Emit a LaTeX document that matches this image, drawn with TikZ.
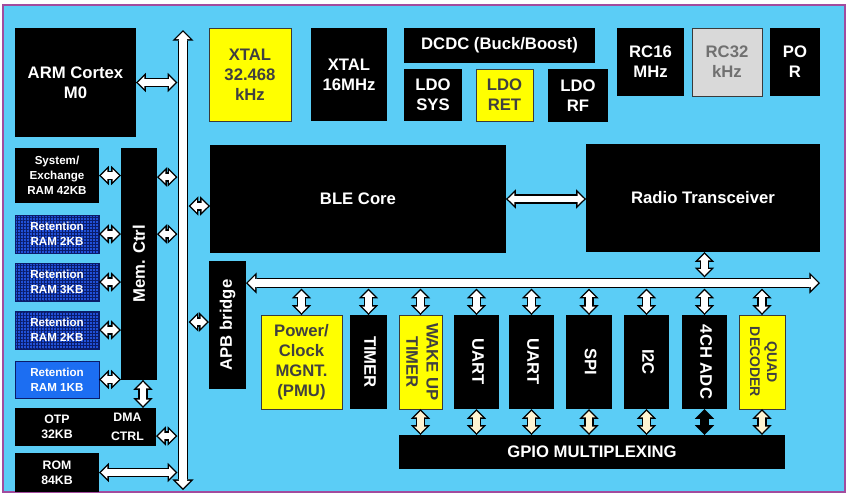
\documentclass[tikz,border=0pt]{standalone}
\usepackage{fontspec}
\setmainfont{Liberation Sans}
\usepackage{graphicx}
\usetikzlibrary{calc,arrows.meta,patterns.meta}
\definecolor{bg}{HTML}{5BCDF6}
\definecolor{frame}{HTML}{A24C9E}
\definecolor{chip}{HTML}{FFFF00}
\definecolor{chiptext}{HTML}{404040}
\definecolor{edge}{HTML}{3A3A3A}
\definecolor{rcgray}{HTML}{D9D9D9}
\definecolor{rctext}{HTML}{707070}
\definecolor{ramblue}{HTML}{2050D8}
\definecolor{ramgrid}{HTML}{0A1C6A}
\definecolor{ramlight}{HTML}{1C6EF2}
\definecolor{cream}{HTML}{FFF4D2}
\newcommand{\lbl}{\bfseries\fontsize{9.5}{11.5}\selectfont}
\newcommand{\sml}{\bfseries\fontsize{6.6}{8.4}\selectfont}
\newcommand{\vup}[1]{\rotatebox{90}{#1}}
\newcommand{\vdn}[1]{\rotatebox{-90}{\begin{tabular}{@{}c@{}}#1\end{tabular}}}
\tikzset{
  BusTip/.tip={Triangle[length=6pt,width=12pt,line width=0pt]},
  BusIn/.tip={Triangle[length=4.07pt,width=8.14pt,line width=0pt]},
  LinkTip/.tip={Triangle[length=5.6pt,width=11pt,line width=0pt]},
  LinkIn/.tip={Triangle[length=3.66pt,width=7.2pt,line width=0pt]},
  bus/.style={draw=white, line width=4.4pt, BusIn-BusIn, shorten >=1.13pt, shorten <=1.13pt,
    preaction={draw=black, line width=6pt, BusTip-BusTip, shorten >=0pt, shorten <=0pt}},
  link/.style={draw=white, line width=3.8pt, LinkIn-LinkIn, shorten >=1.14pt, shorten <=1.14pt,
    preaction={draw=black, line width=5.4pt, LinkTip-LinkTip, shorten >=0pt, shorten <=0pt}},
  iolink/.style={link, draw=cream},
  adclink/.style={link, draw=black},
  blk/.style={fill=black, text=white, font=\lbl, inner sep=0pt, outer sep=0pt, align=center},
  ylw/.style={blk, fill=chip, draw=edge, line width=0.5pt, text=chiptext},
  ram/.style={blk, font=\sml, minimum width=1.68cm},
  ret/.style={ram, draw=ramgrid, line width=0.4pt, preaction={fill=ramblue},
    pattern={Hatch[angle=0,distance=1.7pt,line width=0.5pt]}, pattern color=ramgrid},
  per/.style={blk, minimum height=1.88cm},
}

\begin{document}
\begin{tikzpicture}[x=0.02cm, y=-0.02cm]
  \useasboundingbox (0,0) rectangle (850,498);
  \fill[white] (0,0) rectangle (850,498);
  \filldraw[fill=bg, draw=frame, line width=0.9pt] (3,5) rectangle (845,492);
  % cpu and memories
  \node[blk, minimum width=2.42cm, minimum height=2.18cm] (arm) at (75.5,82.5) {ARM Cortex\\M0};
  \node[ram, minimum height=1.10cm] (sysram) at (57,175.5) {System/\\Exchange\\RAM 42KB};
  \node[ret, minimum height=0.76cm] (ret2a) at (57,234) {Retention\\RAM 2KB};
  \node[ret, minimum height=0.76cm] (ret3) at (57,282) {Retention\\RAM 3KB};
  \node[ret, minimum height=0.76cm] (ret2b) at (57,330) {Retention\\RAM 2KB};
  \node[ram, fill=ramlight, draw=ramgrid, line width=0.4pt, minimum height=0.74cm] (ret1) at (57,379.5) {Retention\\RAM 1KB};
  \node[blk, minimum width=0.72cm, minimum height=4.64cm] (memctrl) at (139,264) {\vup{Mem. Ctrl}};
  \node[ram, font=\bfseries\fontsize{7}{8.8}\selectfont, minimum height=0.76cm] (otp) at (57,427) {OTP\\32KB};
  \node[blk, font=\bfseries\fontsize{7}{10.5}\selectfont, minimum width=1.14cm, minimum height=0.76cm] (dma) at (127.5,427) {DMA\\CTRL};
  \node[ram, font=\bfseries\fontsize{7}{8.8}\selectfont, minimum height=0.78cm] (rom) at (57,472.5) {ROM\\84KB};
  % clocks and power
  \node[ylw, minimum width=1.64cm, minimum height=1.86cm] (xtal32) at (250,74.5) {XTAL\\32.468\\kHz};
  \node[blk, minimum width=1.52cm, minimum height=1.86cm] (xtal16) at (349,74.5) {XTAL\\16MHz};
  \node[blk, minimum width=3.82cm, minimum height=0.70cm] (dcdc) at (499.5,45.5) {DCDC (Buck/Boost)};
  \node[blk, minimum width=1.16cm, minimum height=1.04cm] (ldosys) at (433,95) {LDO\\SYS};
  \node[ylw, minimum width=1.14cm, minimum height=1.04cm] (ldoret) at (504.5,95) {LDO\\RET};
  \node[blk, minimum width=1.20cm, minimum height=1.06cm] (ldorf) at (578,95.5) {LDO\\RF};
  \node[blk, minimum width=1.34cm, minimum height=1.36cm] (rc16) at (650.5,62) {RC16\\MHz};
  \node[blk, fill=rcgray, draw=edge, line width=0.5pt, text=rctext, minimum width=1.40cm, minimum height=1.36cm] (rc32) at (727,62) {RC32\\kHz};
  \node[blk, minimum width=1.00cm, minimum height=1.36cm] (por) at (795,62) {PO\\R};
  % radio
  \node[blk, minimum width=5.92cm, minimum height=2.16cm] (ble) at (358,199) {BLE Core};
  \node[blk, minimum width=4.68cm, minimum height=2.16cm] (radio) at (703,198) {Radio Transceiver};
  % peripherals
  \node[blk, minimum width=0.74cm, minimum height=2.56cm] (apb) at (227.5,325) {\vup{APB bridge}};
  \node[per, ylw, minimum width=1.62cm] (pmu) at (301.5,362) {Power/\\Clock\\MGNT.\\(PMU)};
  \node[per, minimum width=0.74cm] (tmr) at (368.5,362) {\vdn{TIMER}};
  \node[per, ylw, minimum width=0.86cm] (wut) at (420.5,362) {\vdn{WAKE UP\\TIMER}};
  \node[per, minimum width=0.90cm] (uart1) at (476.5,362) {\vdn{UART}};
  \node[per, minimum width=0.90cm] (uart2) at (531.5,362) {\vdn{UART}};
  \node[per, minimum width=0.92cm] (spi) at (589,362) {\vdn{SPI}};
  \node[per, minimum width=0.90cm] (i2c) at (646.5,362) {\vdn{I2C}};
  \node[per, minimum width=0.90cm] (adc) at (704.5,362) {\vdn{4CH ADC}};
  \node[per, ylw, minimum width=0.92cm, font=\bfseries\fontsize{8}{9.6}\selectfont] (quad) at (762,362) {\vdn{QUAD\\DECODER}};
  \node[blk, minimum width=7.72cm, minimum height=0.68cm] (gpio) at (592,452) {GPIO MULTIPLEXING};
  % buses
  \coordinate (bustop) at (183,30);
  \coordinate (busbot) at (183,490);
  \coordinate (pbus) at (820,283);
  \draw[bus] (bustop) -- (busbot);
  \draw[bus] (apb.east |- pbus) -- (pbus);
  % links
  \draw[link] (arm.east) -- ($(arm.east -| bustop)+(-5.5,0)$);
  \foreach \m in {sysram,ret2a,ret3,ret2b,ret1}
    \draw[link] (\m.east) -- (\m.east -| memctrl.west);
  \foreach \dy in {29,86}
    \draw[link] ($(memctrl.north east)+(0,\dy)$) -- ($(memctrl.north east -| bustop)+(-5.5,\dy)$);
  \draw[link] ($(memctrl.south)+(4,0)$) -- ($(memctrl.south |- dma.north)+(4,0)$);
  \draw[link] ($(dma.east)+(0,9)$) -- ($(dma.east -| bustop)+(-5.5,9)$);
  \draw[link] (rom.east) -- ($(rom.east -| bustop)+(-5.5,0)$);
  \draw[link] ($(ble.west -| bustop)+(5.5,7)$) -- ($(ble.west)+(0,7)$);
  \draw[link] ($(apb.west -| bustop)+(5.5,-3)$) -- ($(apb.west)+(0,-3)$);
  \draw[link] (ble.east) -- (ble.east -| radio.west);
  \draw[link] (adc.north |- radio.south) -- ($(adc.north |- pbus)+(0,-5.5)$);
  \foreach \p in {pmu,tmr,wut,uart1,uart2,spi,i2c,adc,quad}
    \draw[link] ($(\p.north |- pbus)+(0,5.5)$) -- (\p.north);
  \foreach \p in {wut,uart1,uart2,spi,i2c,quad}
    \draw[iolink] (\p.south) -- (\p.south |- gpio.north);
  \draw[adclink] (adc.south) -- (adc.south |- gpio.north);
\end{tikzpicture}
\end{document}
